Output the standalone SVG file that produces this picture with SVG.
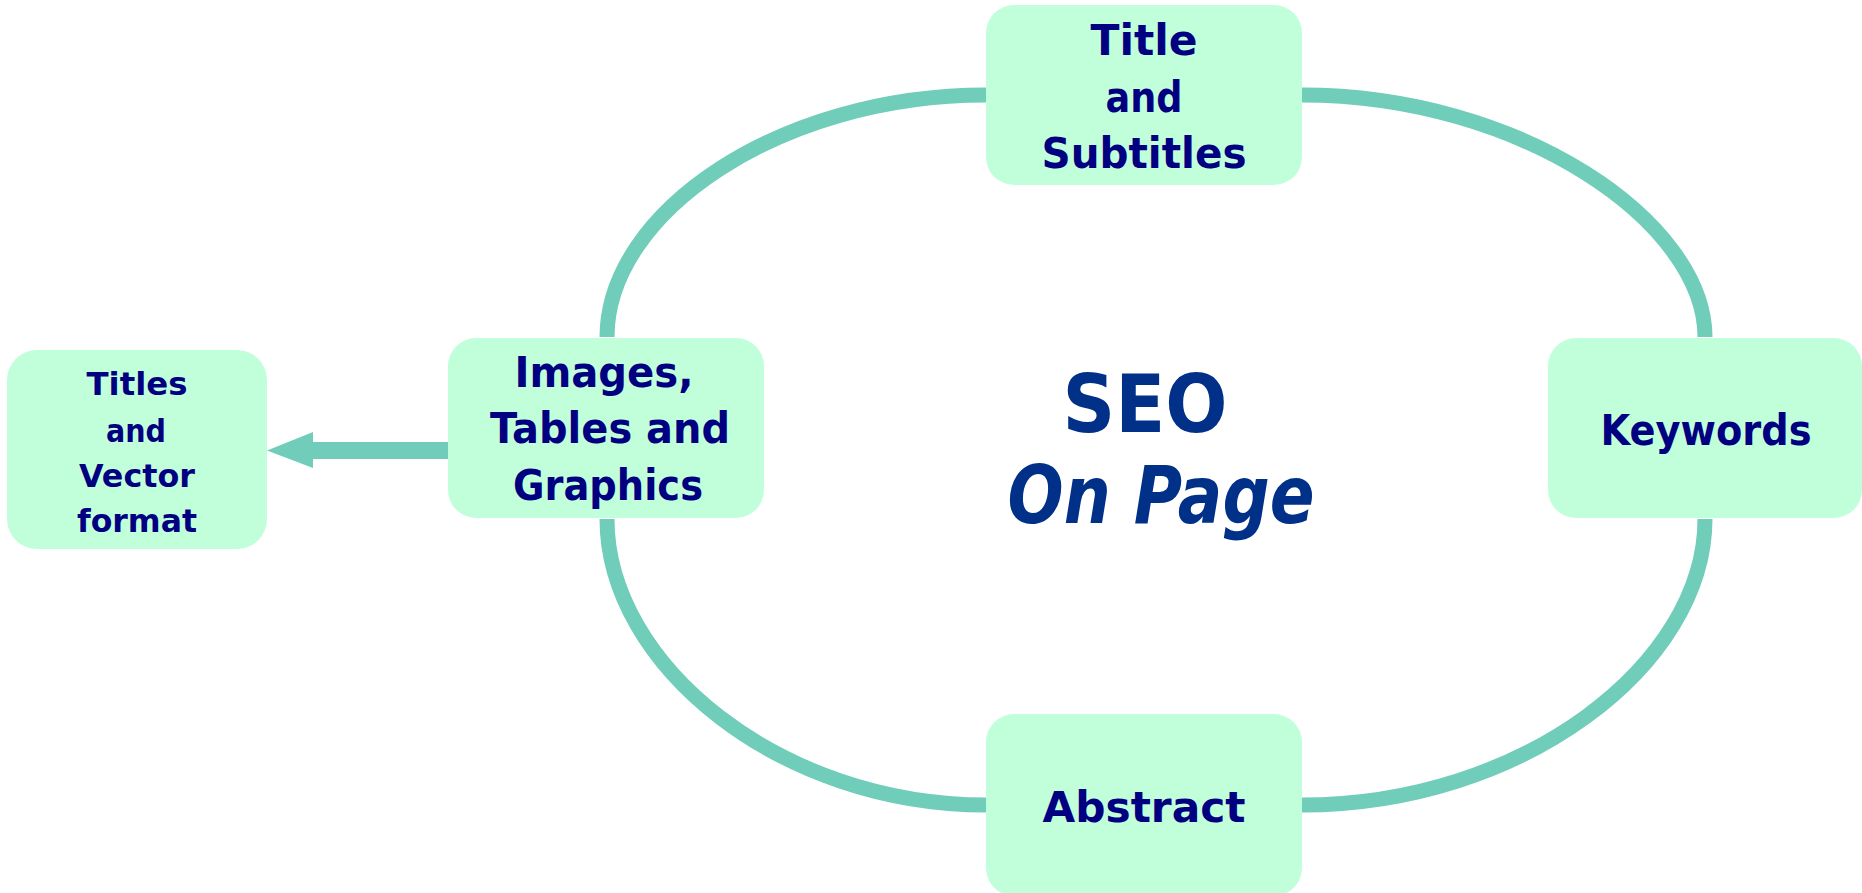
<svg xmlns="http://www.w3.org/2000/svg" width="1862" height="893" viewBox="0 0 1862 893">
  <style>
    .box { fill: #C1FFDB; }
    .ring { fill: none; stroke: #70CDBA; stroke-width: 15; }
    .arrow { fill: #70CDBA; }
    .lbl { font-family: "Comic Sans MS", "DejaVu Sans", sans-serif; font-weight: bold; fill: #000080; text-anchor: middle; }
    .big { font-size: 42px; }
    .small { font-size: 32px; }
    .center { font-family: "Comic Sans MS", "DejaVu Sans", sans-serif; font-weight: 600; fill: #003087; text-anchor: middle; font-size: 80px; }
  </style>
  <rect width="1862" height="893" fill="#FFFFFF"/>
  <g id="connectors">
    <path class="ring" d="M986,95 C780,95 607,212 607,337"/>
    <path class="ring" d="M1302,95 C1520,95 1705,222 1705,337"/>
    <path class="ring" d="M1705,519 C1705,665 1522,805 1302,805"/>
    <path class="ring" d="M607,519 C607,665 780,805 986,805"/>
    <path class="arrow" d="M449,442 L313,442 L313,432 L267,450.5 L313,468 L313,459 L449,459 Z"/>
  </g>
  <g id="node-title">
    <rect class="box" x="986" y="5" width="316" height="180" rx="28"/>
    <text class="lbl big" x="1144" y="55" textLength="107" lengthAdjust="spacingAndGlyphs">Title</text>
    <text class="lbl big" x="1144" y="112" textLength="77" lengthAdjust="spacingAndGlyphs">and</text>
    <text class="lbl big" x="1144" y="168" textLength="205" lengthAdjust="spacingAndGlyphs">Subtitles</text>
  </g>
  <g id="node-images">
    <rect class="box" x="448" y="338" width="316" height="180" rx="28"/>
    <text class="lbl big" x="604" y="387" textLength="179" lengthAdjust="spacingAndGlyphs">Images,</text>
    <text class="lbl big" x="610" y="443" textLength="240" lengthAdjust="spacingAndGlyphs">Tables and</text>
    <text class="lbl big" x="608" y="500" textLength="190" lengthAdjust="spacingAndGlyphs">Graphics</text>
  </g>
  <g id="node-keywords">
    <rect class="box" x="1548" y="338" width="314" height="180" rx="28"/>
    <text class="lbl big" x="1706" y="445" textLength="211" lengthAdjust="spacingAndGlyphs">Keywords</text>
  </g>
  <g id="node-abstract">
    <rect class="box" x="986" y="714" width="316" height="182" rx="28"/>
    <text class="lbl big" x="1144" y="822" textLength="203" lengthAdjust="spacingAndGlyphs">Abstract</text>
  </g>
  <g id="node-titles-vector">
    <rect class="box" x="7" y="350" width="260" height="199" rx="30"/>
    <text class="lbl small" x="137" y="395" textLength="101" lengthAdjust="spacingAndGlyphs">Titles</text>
    <text class="lbl small" x="136" y="442" textLength="60" lengthAdjust="spacingAndGlyphs">and</text>
    <text class="lbl small" x="137" y="487" textLength="116" lengthAdjust="spacingAndGlyphs">Vector</text>
    <text class="lbl small" x="137" y="532" textLength="120" lengthAdjust="spacingAndGlyphs">format</text>
  </g>
  <g id="center-label">
    <text class="center" x="1145" y="432" textLength="165" lengthAdjust="spacingAndGlyphs">SEO</text>
    <text class="center" x="1161" y="523" font-style="italic" textLength="307" lengthAdjust="spacingAndGlyphs">On Page</text>
  </g>
</svg>
